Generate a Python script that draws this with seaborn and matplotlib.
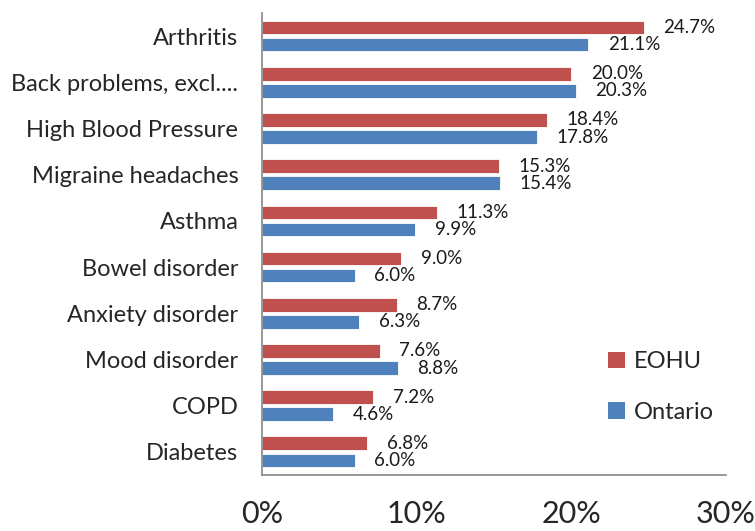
import matplotlib
matplotlib.use("Agg")
import matplotlib.pyplot as plt
import seaborn as sns
import pandas as pd
from matplotlib.patches import Patch

categories = ["Arthritis", "Back problems, excl....", "High Blood Pressure", "Migraine headaches",
              "Asthma", "Bowel disorder", "Anxiety disorder", "Mood disorder", "COPD", "Diabetes"]
eohu = [24.7, 20.0, 18.4, 15.3, 11.3, 9.0, 8.7, 7.6, 7.2, 6.8]
ontario = [21.1, 20.3, 17.8, 15.4, 9.9, 6.0, 6.3, 8.8, 4.6, 6.0]
series = ["EOHU", "Ontario"]
colors = ["#C0504D", "#4F81BD"]
xticks = [0, 10, 20, 30]

df = pd.DataFrame({
    "Condition": categories * 2,
    "Value": eohu + ontario,
    "Region": [series[0]] * len(categories) + [series[1]] * len(categories),
})

sns.set_theme(style="white")
plt.rcParams["font.family"] = ["Lato", "DejaVu Sans"]

fig = plt.figure(figsize=(7.55, 5.31), dpi=100)
ax = fig.add_axes([0.347, 0.1055, 0.6145, 0.87])

sns.barplot(data=df, y="Condition", x="Value", hue="Region", order=categories,
            hue_order=series, palette=colors, saturation=1, orient="h", width=0.74, gap=0.2,
            edgecolor="white", linewidth=0.6, ax=ax, legend=False)

ax.set_xlim(0, 30)
ax.set_ylim(9.5, -0.5)
ax.set_xticks(xticks)
ax.set_xticklabels([f"{t}%" for t in xticks], fontsize=22)
ax.tick_params(axis="x", length=0, pad=18)
ax.tick_params(axis="y", length=0, pad=17, labelsize=17)
ax.set_xlabel("")
ax.set_ylabel("")
for s in ["top", "right"]:
    ax.spines[s].set_visible(False)
for s in ["left", "bottom"]:
    ax.spines[s].set_color("#868686")
    ax.spines[s].set_linewidth(1.2)

for cont in ax.containers:
    ax.bar_label(cont, labels=[f"{v:.1f}%" for v in cont.datavalues], padding=14,
                 fontsize=13.5, color="#1a1a1a")

handles = [Patch(facecolor=c, edgecolor="none") for c in colors]
fig.legend(handles, series, loc="center left", bbox_to_anchor=(0.79, 0.271), frameon=False,
           fontsize=17, handlelength=0.7, handleheight=0.7, handletextpad=0.4,
           labelspacing=1.25, borderpad=0)

fig.savefig("out.png", dpi=100)
